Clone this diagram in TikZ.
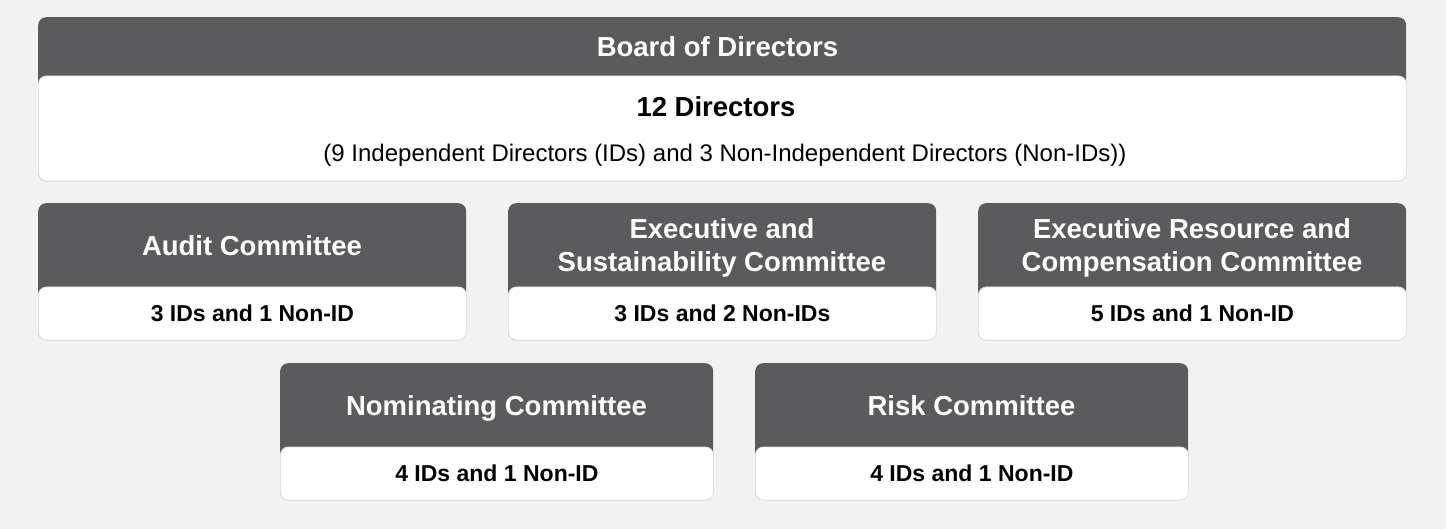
\documentclass[tikz,border=0pt]{standalone}
\usepackage{fontspec}
\setmainfont{Liberation Sans}
\usetikzlibrary{positioning}

\definecolor{bggray}{HTML}{F2F2F2}
\definecolor{headgray}{HTML}{5B5B5D}
\definecolor{edgegray}{HTML}{E2E2E2}

\begin{document}
\begin{tikzpicture}[x=1pt, y=-1pt]
    \tikzstyle{card} = [fill=headgray, rounded corners=8pt, inner sep=0pt, anchor=north west]
    \tikzstyle{body} = [fill=white, draw=edgegray, line width=0.8pt, rounded corners=8pt,
                        inner sep=0pt, anchor=south west,
                        font=\fontsize{23}{27}\selectfont\bfseries]
    \tikzstyle{title} = [text=white, align=center, inner sep=0pt,
                         font=\fontsize{27.5}{33}\selectfont\bfseries,
                         execute at end node=\vphantom{g}]

    \fill [bggray] (0, 0) rectangle (1446, 529);

    % board
    \node [card, minimum width=1368pt, minimum height=164pt] (board) at (38, 17) {};
    \node [body, minimum width=1368pt, minimum height=105pt] (board-body) at (board.south west) {};
    \node [title] (board-title) at (717.5, 49.5) {Board of Directors};
    \node [inner sep=0pt, font=\fontsize{27.5}{32}\selectfont\bfseries] (board-count) at (716, 107) {12 Directors};
    \node [inner sep=0pt, font=\fontsize{24}{28}\selectfont] (board-split) at (725, 155)
        {(9 Independent Directors (IDs) and 3 Non-Independent Directors (Non-IDs))};

    % committees
    \foreach \x/\y/\w/\id/\name/\members in {
        38/203/428/audit/{Audit Committee}/{3 IDs and 1 Non-ID},
        508/203/428/exec/{Executive and\\Sustainability Committee}/{3 IDs and 2 Non-IDs},
        978/203/428/erc/{Executive Resource and\\Compensation Committee}/{5 IDs and 1 Non-ID},
        280/363/433/nom/{Nominating Committee}/{4 IDs and 1 Non-ID},
        755/363/433/risk/{Risk Committee}/{4 IDs and 1 Non-ID}} {
      \node [card, minimum width=\w pt, minimum height=137pt] (\id) at (\x, \y) {};
      \node [body, minimum width=\w pt, minimum height=53pt] (\id-body) at (\id.south west) {\members};
      \node [title] (\id-title) at (\x+\w/2, \y+45) {\name};
    }
  \end{tikzpicture}
\end{document}
